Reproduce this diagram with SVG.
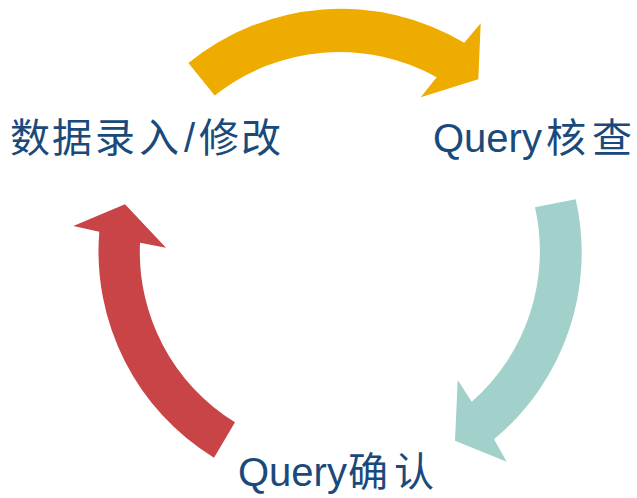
<svg xmlns="http://www.w3.org/2000/svg" width="637" height="498" viewBox="0 0 637 498">
  <style>
    .lbl { font-family: "Liberation Sans", "Noto Sans CJK SC", sans-serif; font-size: 40px; fill: #1a4a7b; }
    .cjk { font-family: "Noto Sans CJK SC", "Liberation Sans", sans-serif; }
    .yellow { fill: #eeac00; }
    .teal { fill: #a2d0ca; }
    .red { fill: #c84446; }
  </style>
  <rect width="637" height="498" fill="#ffffff"/>
  <g id="connectors">
    <path class="yellow" d="M 188.4,62.9 A 242 242 0 0 1 464.3,42.7 L 480.7,23.3 L 478.3,79.3 L 420.7,97.3 L 436.7,77.3 A 200 200 0 0 0 214.7,95.6 Z"/>
    <path class="teal" d="M 575.7,199.3 A 242 242 0 0 1 494,439.3 L 506.7,461.7 L 455,440.7 L 457.7,380 L 471.7,401.7 A 200 200 0 0 0 535,207.3 Z"/>
    <path class="red" d="M 214,457.7 A 242 242 0 0 1 99.3,231.7 L 73.3,226 L 125,204.3 L 166,247.7 L 140,242.7 A 200 200 0 0 0 235,422.3 Z"/>
  </g>
  <g id="node-entry">
    <text class="lbl" y="152"><tspan class="cjk" x="10">数</tspan><tspan class="cjk" x="52">据</tspan><tspan class="cjk" x="95">录</tspan><tspan class="cjk" x="139">入</tspan><tspan x="184">/</tspan><tspan class="cjk" x="199">修</tspan><tspan class="cjk" x="241">改</tspan></text>
  </g>
  <g id="node-check">
    <text class="lbl" y="152"><tspan x="433">Query</tspan><tspan class="cjk" x="546">核</tspan><tspan class="cjk" x="592">查</tspan></text>
  </g>
  <g id="node-confirm">
    <text class="lbl" y="486"><tspan x="238">Query</tspan><tspan class="cjk" x="348">确</tspan><tspan class="cjk" x="394">认</tspan></text>
  </g>
</svg>
